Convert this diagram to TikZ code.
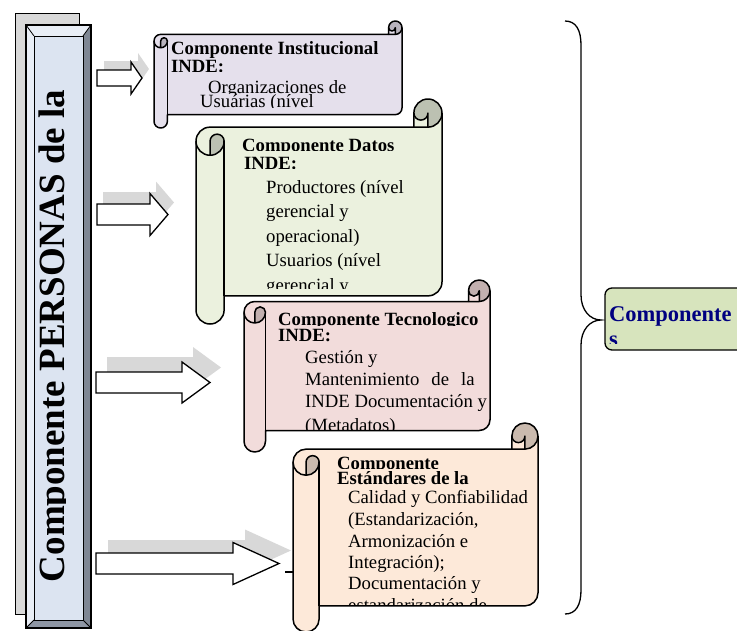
\documentclass[tikz,border=0pt]{standalone}
\usepackage{fontspec}
\setmainfont{Liberation Serif}
\usetikzlibrary{calc}

\definecolor{purplefill}{HTML}{E5E0EC}
\definecolor{purplecurl}{HTML}{B8B3BD}
\definecolor{greenfill}{HTML}{EBF1DE}
\definecolor{greencurl}{HTML}{BCC1B2}
\definecolor{pinkfill}{HTML}{F2DCDB}
\definecolor{pinkcurl}{HTML}{C2B0AF}
\definecolor{orangefill}{HTML}{FDE9D9}
\definecolor{orangecurl}{HTML}{CABAAE}
\definecolor{barfill}{HTML}{DCE4F1}
\definecolor{barlight}{HTML}{E9EEF6}
\definecolor{bardark}{HTML}{7F8794}
\definecolor{barbottom}{HTML}{8E96A4}
\definecolor{backgray}{HTML}{D9D9D9}
\definecolor{shadowgray}{HTML}{D8D8D8}
\definecolor{boxgreen}{HTML}{D7E4BD}
\definecolor{navytext}{HTML}{000080}

% horizontal scroll: #1 left, #2 top, #3 right, #4 bottom, #5 fill, #6 curl shade
\newcommand\hscroll[6]{%
  \begin{scope}[shift={(#1,#2)}]
    \pgfmathsetmacro\scW{#3-#1}
    \pgfmathsetmacro\scH{#4-#2}
    \pgfmathsetmacro\scA{0.125*min(\scW,\scH)}
    \pgfmathsetmacro\scB{\scA/2}
    \pgfmathsetmacro\scC{\scA/4}
    \pgfmathsetmacro\scYc{1.5*\scA}
    \pgfmathsetmacro\scYd{2*\scA}
    \pgfmathsetmacro\scYf{\scH-\scA}
    \pgfmathsetmacro\scYg{\scH-\scB}
    \pgfmathsetmacro\scYe{\scH-1.5*\scA}
    \pgfmathsetmacro\scXc{\scW-\scA}
    \pgfmathsetmacro\scXd{\scW-\scB}
    \fill[#5] (\scW,\scB) arc[start angle=0,end angle=90,radius=\scB]
      -- (\scXd,\scB) arc[start angle=0,end angle=180,radius=\scC]
      -- (\scXc,\scA) -- (\scB,\scA)
      arc[start angle=270,end angle=180,radius=\scB]
      -- (0,\scYg) arc[start angle=180,end angle=0,radius=\scB]
      -- (\scA,\scYf) -- (\scXd,\scYf)
      arc[start angle=90,end angle=0,radius=\scB] -- cycle;
    \fill[#6] (\scB,\scYd) arc[start angle=90,end angle=0,radius=\scB]
      arc[start angle=0,end angle=-180,radius=\scC] -- cycle;
    \fill[#6] (\scXd,\scA) arc[start angle=90,end angle=-180,radius=\scB]
      arc[start angle=180,end angle=0,radius=\scC] -- cycle;
    \draw[scrollline] (0,\scYc) arc[start angle=180,end angle=270,radius=\scB]
      -- (\scXc,\scA) -- (\scXc,\scB)
      arc[start angle=180,end angle=360,radius=\scB]
      -- (\scW,\scYe) arc[start angle=0,end angle=90,radius=\scB]
      -- (\scA,\scYf) -- (\scA,\scYg)
      arc[start angle=0,end angle=180,radius=\scB] -- cycle;
    \draw[scrollline] (\scXc,\scA) -- (\scXd,\scA)
      arc[start angle=90,end angle=0,radius=\scB];
    \draw[scrollline] (\scXd,\scA) -- (\scXd,\scB)
      arc[start angle=0,end angle=180,radius=\scC];
    \draw[scrollline] (\scB,\scYd) -- (\scB,\scYc)
      arc[start angle=180,end angle=360,radius=\scC]
      arc[start angle=0,end angle=180,radius=\scB];
    \draw[scrollline] (\scA,\scYc) -- (\scA,\scYf);
  \end{scope}}

% one line of text, cut off below #4: #1 name, #2 x, #3 baseline, #4 cut, #5 text
\newcommand\txtline[5]{%
  \begin{scope}
    \clip (#2-4,#3-40) rectangle (#2+320,#4);
    \node[textline] (#1) at (#2,#3) {#5};
  \end{scope}}

% block arrow with its shadow: #1 name, #2 left, #3 centre y, #4 head base, #5 tip,
% #6 half shaft, #7 half head, #8 shadow dx, #9 shadow dy
\newcommand\blockarrow[9]{%
  \fill[shadowgray] ($(#2,#3-#6)+(#8,#9)$) -- ++(#4-#2,0) -- ++(0,#6-#7)
    -- ($(#5,#3)+(#8,#9)$) -- ($(#4,#3+#7)+(#8,#9)$) -- ++(0,#6-#7)
    -- ($(#2,#3+#6)+(#8,#9)$) -- cycle;
  \draw[arrowline] (#2,#3-#6) -- (#4,#3-#6) -- (#4,#3-#7) -- (#5,#3)
    -- (#4,#3+#7) -- (#4,#3+#6) -- (#2,#3+#6) -- cycle;
  \coordinate (#1) at (#5,#3);}

\begin{document}
\begin{tikzpicture}[x=1pt,y=-1pt,
  scrollline/.style={line width=1.5pt, line join=round},
  arrowline/.style={draw=black, fill=white, line width=1.3pt, line join=miter},
  textline/.style={anchor=base west, inner sep=0pt, font=\fontsize{18.7}{22}\selectfont}]
\useasboundingbox (0,0) rectangle (737,630);

% ---- left bevelled bar ----
\draw[fill=backgray, line width=1pt] (15,13) rectangle (79,614);
\fill[barlight] (26,25) -- (91,25) -- (83,36) -- (34,36) -- cycle;
\fill[barlight] (26,25) -- (34,36) -- (34,620) -- (26,628) -- cycle;
\fill[bardark] (91,25) -- (83,36) -- (83,620) -- (91,628) -- cycle;
\fill[barbottom] (26,628) -- (34,620) -- (83,620) -- (91,628) -- cycle;
\fill[barfill] (34,36) rectangle (83,620);
\draw[line width=1.2pt] (26,25) rectangle (91,628);
\draw[line width=0.8pt] (34,36) rectangle (83,620);
\draw[line width=0.8pt] (26,25) -- (34,36) (91,25) -- (83,36)
  (26,628) -- (34,620) (91,628) -- (83,620);
\begin{scope}
  \clip (34,36) rectangle (65,620);
  \node[rotate=90, anchor=base, inner sep=0pt,
    font=\fontsize{37}{40}\selectfont\bfseries] (personas) at (64.5,336)
    {Componente PERSONAS de la};
\end{scope}

% ---- arrows ----
\blockarrow{a1}{97}{78}{131}{142}{8}{16}{7}{-9}
\blockarrow{a2}{97}{214.5}{150}{168}{10.5}{21}{6}{-12}
\blockarrow{a3}{96}{382.5}{182}{210}{10.5}{20.5}{11}{-15}
\blockarrow{a4}{96}{563.5}{233}{279}{10.5}{21}{12}{-13}

% ---- scrolls ----
\hscroll{154}{21}{402}{128}{purplefill}{purplecurl}
\txtline{p1}{171}{54}{58}{\bfseries Componente Institucional}
\txtline{p2}{171}{72}{71}{\bfseries INDE:}
\txtline{p3}{208}{93}{93}{Organizaciones de}
\txtline{p4}{200}{107}{107}{Usuárias (nível}

\hscroll{196}{99}{442}{324}{greenfill}{greencurl}
\txtline{g1}{242}{151}{150}{\bfseries Componente Datos}
\txtline{g2}{244}{169}{168}{\bfseries INDE:}
\txtline{g3}{266}{193}{199}{Productores (nível}
\txtline{g4}{266}{217.5}{223}{gerencial y}
\txtline{g5}{266}{242}{248}{operacional)}
\txtline{g6}{266}{266.5}{272}{Usuarios (nível}
\txtline{g7}{266}{291}{288}{gerencial y}

\hscroll{244}{280}{490}{452}{pinkfill}{pinkcurl}
\txtline{k1}{278}{325}{325}{\bfseries Componente Tecnologico}
\txtline{k2}{278}{341}{341}{\bfseries INDE:}
\txtline{k3}{305}{363}{369}{Gestión y}
\txtline{k4}{305}{385}{391}{Mantenimiento\hspace{12pt}de\hspace{12pt}la}
\txtline{k5}{305}{407}{413}{INDE Documentación y}
\txtline{k6}{305}{431}{430}{(Metadatos)}

\hscroll{293}{423}{538}{632}{orangefill}{orangecurl}
\txtline{o1}{337}{469}{468}{\bfseries Componente}
\txtline{o2}{337}{484}{484}{\bfseries Estándares de la}
\txtline{o3}{348}{503}{509}{Calidad y Confiabilidad}
\txtline{o4}{348}{525}{531}{(Estandarización,}
\txtline{o5}{348}{547}{553}{Armonización e}
\txtline{o6}{348}{568}{574}{Integración);}
\txtline{o7}{348}{589}{595}{Documentación y}
\txtline{o8}{348}{611}{604}{estandarización de}

% short tick at the last arrow's tip
\coordinate (tickL) at (285,572);
\coordinate (tickR) at (293,572);
\draw[line width=1.2pt] (tickL) -- (tickR);

% ---- brace and result box ----
\draw[line width=1.3pt] (565,21) .. controls (576,21) and (581,30) .. (581,45)
  -- (581,295) .. controls (581,310) and (590,320) .. (601,320)
  .. controls (590,320) and (581,330) .. (581,345)
  -- (581,590) .. controls (581,605) and (576,614) .. (565,614);
\draw[fill=boxgreen, line width=1.3pt, rounded corners=7pt] (605,288) rectangle (770,350);
\begin{scope}
  \clip (605,288) rectangle (737,343);
  \node[anchor=base west, inner sep=0pt, text=navytext,
    font=\fontsize{22.5}{24}\selectfont\bfseries] (res1) at (609,321) {Componente};
  \node[anchor=base west, inner sep=0pt, text=navytext,
    font=\fontsize{22.5}{24}\selectfont\bfseries] (res2) at (609,346) {s};
\end{scope}
\end{tikzpicture}
\end{document}
